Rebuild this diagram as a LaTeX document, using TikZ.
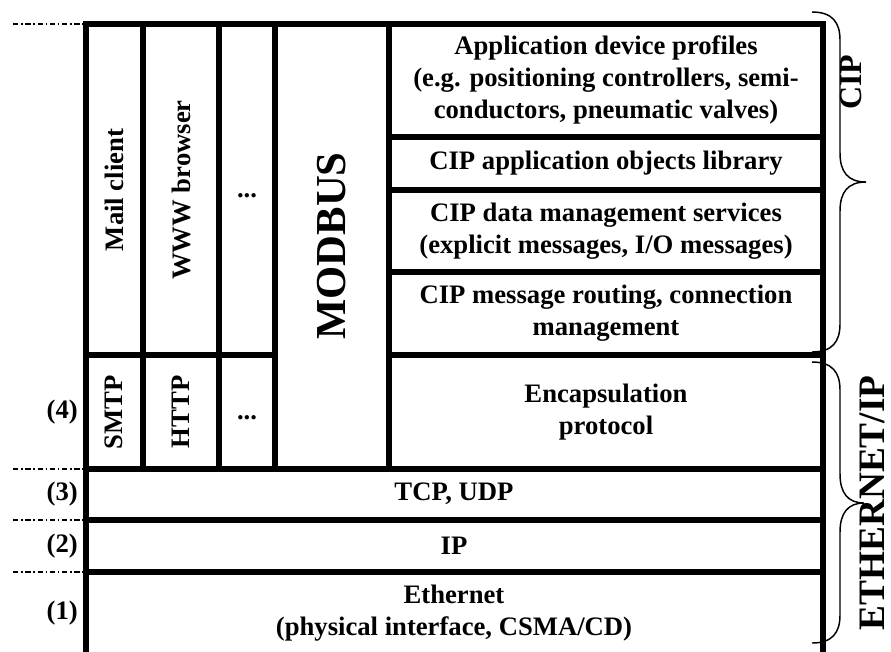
\documentclass[tikz,border=0pt]{standalone}
\usepackage{fontspec}
\setmainfont{Liberation Serif}
\begin{document}
\begin{tikzpicture}[x=.75pt,y=-.75pt,line join=miter,
  cell/.style={line width=4pt},
  txt/.style={font=\bfseries\fontsize{20}{24}\selectfont,align=center,inner sep=0pt},
  upright/.style={txt,rotate=90},
  level/.style={line width=1.1pt,dash pattern=on 4pt off 2pt on 1.2pt off 2pt},
  curly/.style={line width=1.1pt}]
  \useasboundingbox (0,0) rectangle (891,651);
  \clip (0,0) rectangle (891,651);
  % stack outline and layer borders
  \draw[cell] (86,680)--(86,24)--(823,24)--(823,680);
  \foreach \x in {143,219,275,389}
    \draw[cell] (\x,24)--(\x,469);
  \draw[cell] (86,355)--(275,355);
  \foreach \y in {137,190,272,355}
    \draw[cell] (389,\y)--(823,\y);
  \foreach \y in {469,520,572}
    \draw[cell] (86,\y)--(823,\y);
  \foreach \y in {24,469,520,572}
    \draw[level] (13,\y)--(84,\y);
  % CIP part
  \node[txt] (profiles) at (606,80) {Application device profiles\\(e.g. positioning controllers, semi-\\conductors, pneumatic valves)};
  \node[txt] (objlib) at (606,163) {CIP application objects library};
  \node[txt] (datamgmt) at (606,231) {CIP data management services\\(explicit messages, I/O messages)};
  \node[txt] (routing) at (606,313) {CIP message routing, connection\\management};
  \node[txt] (encap) at (606,412) {Encapsulation\\protocol};
  % lower layers
  \node[txt] (tcpudp) at (454,494) {TCP, UDP};
  \node[txt] (ip) at (454,546) {IP};
  \node[txt] (ether) at (454,613) {Ethernet\\(physical interface, CSMA/CD)};
  % other applications
  \node[upright] (mail) at (114,190) {Mail client};
  \node[upright] (www) at (181,190) {WWW browser};
  \node[txt] (appdots) at (247,196) {...};
  \node[upright] (smtp) at (114,412) {SMTP};
  \node[upright] (http) at (181,412) {HTTP};
  \node[txt] (protodots) at (247,418) {...};
  \node[upright,font=\bfseries\fontsize{32}{38}\selectfont] (modbus) at (332,246) {MODBUS};
  % level numbers
  \node[txt,anchor=east] (lvfour) at (78,412) {(4)};
  \node[txt,anchor=east] (lvthree) at (78,494) {(3)};
  \node[txt,anchor=east] (lvtwo) at (78,546) {(2)};
  \node[txt,anchor=east] (lvone) at (78,613) {(1)};
  % braces
  \draw[curly] (812,12) .. controls (832,12) and (840,22) .. (840,40)--(840,153)
    .. controls (840,172) and (848,182) .. (866,182)
    .. controls (848,182) and (840,192) .. (840,211)--(840,324)
    .. controls (840,342) and (832,352) .. (812,352);
  \draw[curly] (812,362) .. controls (832,362) and (840,372) .. (840,390)--(840,474)
    .. controls (840,493) and (848,503) .. (864,503)
    .. controls (848,503) and (840,513) .. (840,532)--(840,615)
    .. controls (840,633) and (832,643) .. (812,643);
  \node[upright,font=\bfseries\fontsize{24}{28}\selectfont] (cip) at (851,82) {CIP};
  \node[upright,font=\bfseries\fontsize{28}{32}\selectfont] (enip) at (872,503) {ETHERNET/IP};
\end{tikzpicture}
\end{document}
